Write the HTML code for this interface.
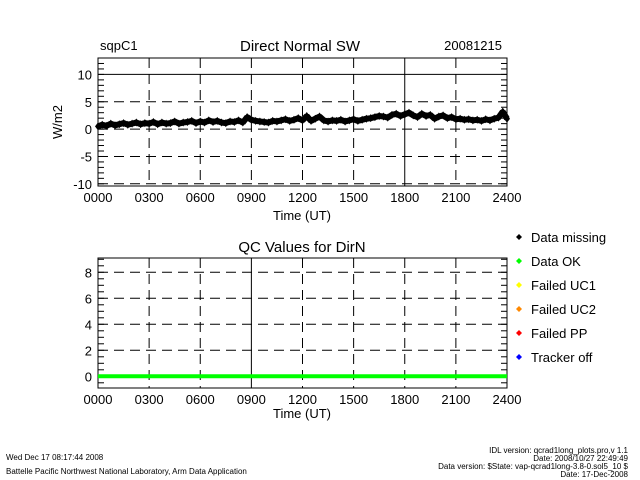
<!DOCTYPE html>
<html><head><meta charset="utf-8"><style>
html,body{margin:0;padding:0;background:#fff;}
svg{display:block;font-family:"Liberation Sans",sans-serif;}
</style></head><body>
<svg id="c" width="640" height="480" viewBox="0 0 640 480">
<rect width="640" height="480" fill="#fff"/>
<text x="100" y="50" font-size="13">sqpC1</text>
<text x="300" y="51" font-size="15" text-anchor="middle">Direct Normal SW</text>
<text x="502" y="50" font-size="13" text-anchor="end">20081215</text>
<text x="302" y="220" font-size="13" text-anchor="middle">Time (UT)</text>
<text x="0" y="0" font-size="13" text-anchor="middle" transform="translate(62,122) rotate(-90)">W/m2</text>
<text x="302" y="252" font-size="15" text-anchor="middle">QC Values for DirN</text>
<text x="302" y="418" font-size="13" text-anchor="middle">Time (UT)</text>
<text x="6" y="460" font-size="8">Wed Dec 17 08:17:44 2008</text>
<text x="6" y="474" font-size="8">Battelle Pacific Northwest National Laboratory, Arm Data Application</text>
<g font-size="8" text-anchor="end">
<text x="628" y="453">IDL version: qcrad1long_plots.pro,v 1.1</text>
<text x="628" y="461">Date: 2008/10/27 22:49:49</text>
<text x="628" y="469">Data version: $State: vap-qcrad1long-3.8-0.sol5_10 $</text>
<text x="628" y="477">Date: 17-Dec-2008</text>
</g>
<g id="top"></g><g id="bot"></g><g id="leg"></g>
</svg>
<script>
const xTicks=["0000","0300","0600","0900","1200","1500","1800","2100","2400"];
const topYTicks=[-10,-5,0,5,10];
const botYTicks=[0,2,4,6,8];
const dirN=[0.5,0.8,0.6,1.0,0.7,0.9,1.1,0.8,1.0,1.2,0.9,1.1,1.0,1.3,0.9,1.2,1.0,1.1,1.4,1.0,1.2,1.3,1.5,1.1,1.4,1.2,1.6,1.3,1.5,1.2,1.1,1.4,1.3,1.6,1.2,2.2,1.7,1.5,1.4,1.3,1.2,1.5,1.4,1.6,1.8,1.5,1.7,2.0,1.6,2.4,1.5,1.9,2.3,1.6,1.4,1.6,1.5,1.7,1.4,1.6,1.8,1.5,1.7,1.9,2.0,2.2,2.4,2.3,2.1,2.6,2.8,2.4,2.7,3.0,2.5,2.2,2.8,2.4,2.6,1.9,2.3,2.5,2.0,2.2,1.8,1.9,1.7,1.8,1.6,1.7,1.5,1.8,1.6,1.9,2.1,3.2,1.9];
const qcLabels=["Data missing","Data OK","Failed UC1","Failed UC2","Failed PP","Tracker off"];
const qcColors=["#000","#00ff00","#ffff00","#ff8800","#ff0000","#0000ff"];
const qcOK=[0,0];
const NS="http://www.w3.org/2000/svg";
function mk(p,t,a){const e=document.createElementNS(NS,t);for(const k in a)e.setAttribute(k,a[k]);p.appendChild(e);return e;}
const L=98,R=507;
const xs=h=>L+(R-L)*h/24;
function axes(g,top,bot,ymin,ymax,yt,minor,solidX,solidY){
 const ys=v=>bot-(bot-top)*(v-ymin)/(ymax-ymin);
 xTicks.forEach((t,i)=>{const x=xs(i*3);
  if(i>0&&i<8){const l=mk(g,'line',{x1:x,x2:x,y1:top,y2:bot,stroke:'#000','stroke-dasharray':(i==solidX)?'':'10,6'});
   }
  const tx=mk(g,'text',{x:x,y:bot+16,'font-size':13,'text-anchor':'middle'});tx.textContent=t;
  });
 yt.forEach(v=>{const y=ys(v);
  const l=mk(g,'line',{x1:L,x2:R,y1:y,y2:y,stroke:'#000','stroke-dasharray':(v===solidY)?'':'10,6'});
  
  const tx=mk(g,'text',{x:L-6,y:y+5,'font-size':13,'text-anchor':'end'});tx.textContent=v;
  });
 for(let v=Math.ceil(ymin/minor)*minor;v<=ymax;v+=minor){const y=ys(v);
  mk(g,'line',{x1:L,x2:L+6,y1:y,y2:y,stroke:'#000'});mk(g,'line',{x1:R-6,x2:R,y1:y,y2:y,stroke:'#000'});}
 const b=mk(g,'rect',{x:L,y:top,width:R-L,height:bot-top,fill:'none',stroke:'#000'});
 
 return ys;}
const gt=document.getElementById('top');
const ys1=axes(gt,58,186,-10.4,13,topYTicks,1,6,10);
const n=dirN.length;
const pts=dirN.map((v,i)=>xs(24*i/(n-1))+','+ys1(v)).join(' ');
const pl=mk(gt,'polyline',{points:pts,fill:'none',stroke:'#000','stroke-width':6,'stroke-linejoin':'bevel'});

dirN.forEach((v,i)=>{const x=xs(24*i/(n-1)),y=ys1(v);
 const d=mk(gt,'path',{d:`M${x-3},${y}L${x},${y-4}L${x+3},${y}L${x},${y+4}Z`,fill:'#000'});
 });
const gb=document.getElementById('bot');
const ys2=axes(gb,258,388,-0.9,9.1,botYTicks,0.5,3,null);
const q=mk(gb,'line',{x1:L,x2:R,y1:ys2(qcOK[0]),y2:ys2(qcOK[1]),stroke:'#00ff00','stroke-width':4});

const lg=document.getElementById('leg');
qcLabels.forEach((t,i)=>{const y=237+i*24;
 const d=mk(lg,'path',{d:`M516,${y}L519,${y-3}L522,${y}L519,${y+3}Z`,fill:qcColors[i]});
 
 const tx=mk(lg,'text',{x:531,y:y+5,'font-size':13});tx.textContent=t;
 });
</script>
</body></html>
